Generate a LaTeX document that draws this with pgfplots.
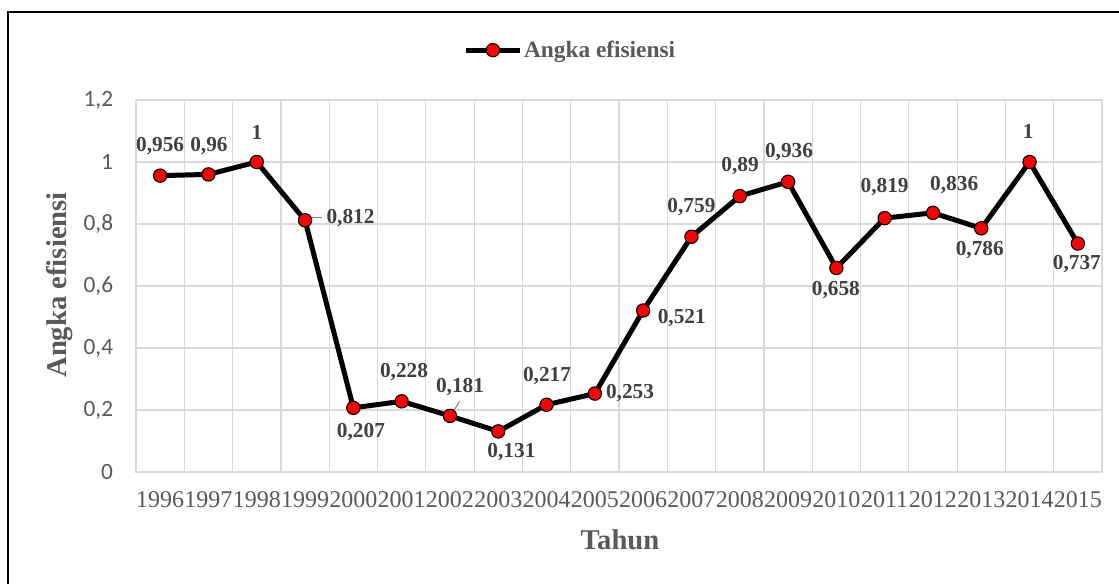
\documentclass[border=0pt]{standalone}
\usepackage{pgfplots}
\pgfplotsset{compat=1.18}
\usepackage{fontspec}
\setmainfont{Liberation Serif}
\newfontfamily\carlito{Carlito}
\definecolor{gridc}{HTML}{D9D9D9}
\definecolor{txtc}{HTML}{595959}
\definecolor{lblc}{HTML}{404040}
\tikzset{lbl/.style={font=\bfseries\fontsize{16}{16}\selectfont, text=lblc, inner sep=0pt}}
\begin{document}
\begin{tikzpicture}
\useasboundingbox (0,0) rectangle (839.25pt,437.25pt);
\draw[line width=1.5pt] (6pt,-2pt) -- (6pt,428.25pt) -- (842pt,428.25pt);
\begin{axis}[
  at={(102pt,83.25pt)}, anchor=south west,
  scale only axis, width=724.5pt, height=279pt,
  xmin=-0.5, xmax=19.5, ymin=0, ymax=1.2,
  clip=false,
  xtick={0,...,19},
  xticklabels={1996,1997,1998,1999,2000,2001,2002,2003,2004,2005,2006,2007,2008,2009,2010,2011,2012,2013,2014,2015},
  minor xtick={-0.5,0.5,...,19.5},
  ytick={0,0.2,0.4,0.6,0.8,1,1.2},
  yticklabels={0,{0,2},{0,4},{0,6},{0,8},1,{1,2}},
  major tick length=0pt, minor tick length=0pt,
  ymajorgrids, xminorgrids,
  grid style={draw=gridc, line width=0.9pt},
  minor grid style={draw=gridc, line width=0.9pt},
  axis line style={draw=gridc, line width=0.9pt},
  xticklabel style={font=\fontsize{18}{18}\selectfont, text=txtc, inner sep=0pt, yshift=-14.5pt},
  yticklabel style={font=\carlito\fontsize{17.5}{17.5}\selectfont, text=txtc, inner sep=0pt, xshift=-17pt},
  xlabel={Tahun},
  ylabel={Angka efisiensi},
  xlabel style={font=\bfseries\fontsize{21.5}{21.5}\selectfont, text=txtc, at={(axis description cs:0.501,-0.183)}, anchor=center},
  ylabel style={font=\bfseries\fontsize{21.5}{21.5}\selectfont, text=txtc, at={(axis description cs:-0.0787,0.503)}, anchor=center},
  legend style={at={(0.339,1.134)}, anchor=west, draw=none, fill=none, inner sep=0pt,
    font=\bfseries\fontsize{17.5}{17.5}\selectfont, text=txtc,
    nodes={inner sep=1.5pt}},
  legend image code/.code={\draw[#1, mark repeat=2, mark phase=2] plot coordinates {(0pt,0pt) (20pt,0pt) (40pt,0pt)};},
]
\addplot[black, line width=3.75pt, mark=*, mark size=5pt,
  mark options={fill=red, draw=black, line width=0.8pt}]
  coordinates {(0,0.956) (1,0.96) (2,1) (3,0.812) (4,0.207) (5,0.228) (6,0.181) (7,0.131) (8,0.217) (9,0.253) (10,0.521) (11,0.759) (12,0.89) (13,0.936) (14,0.658) (15,0.819) (16,0.836) (17,0.786) (18,1) (19,0.737)};
\addlegendentry{Angka efisiensi}
\draw[gray, line width=0.75pt] (axis cs:3.12,0.822) -- (axis cs:3.35,0.822);
\draw[gray, line width=0.75pt] (axis cs:6.05,0.19) -- (axis cs:6.2,0.228);
\node[lbl] at (axis cs:0,1.052) {0,956};
\node[lbl] at (axis cs:1.011,1.052) {0,96};
\node[lbl] at (axis cs:2.005,1.094) {1};
\node[lbl] at (axis cs:3.941,0.819) {0,812};
\node[lbl] at (axis cs:4.158,0.129) {0,207};
\node[lbl] at (axis cs:5.049,0.323) {0,228};
\node[lbl] at (axis cs:6.208,0.274) {0,181};
\node[lbl] at (axis cs:7.274,0.0645) {0,131};
\node[lbl] at (axis cs:8.01,0.31) {0,217};
\node[lbl] at (axis cs:9.728,0.255) {0,253};
\node[lbl] at (axis cs:10.80,0.497) {0,521};
\node[lbl] at (axis cs:11.0,0.855) {0,759};
\node[lbl] at (axis cs:12.005,0.987) {0,89};
\node[lbl] at (axis cs:13.02,1.032) {0,936};
\node[lbl] at (axis cs:13.99,0.587) {0,658};
\node[lbl] at (axis cs:15.0,0.919) {0,819};
\node[lbl] at (axis cs:16.44,0.926) {0,836};
\node[lbl] at (axis cs:16.97,0.716) {0,786};
\node[lbl] at (axis cs:17.97,1.097) {1};
\node[lbl] at (axis cs:18.98,0.671) {0,737};
\end{axis}
\end{tikzpicture}
\end{document}
